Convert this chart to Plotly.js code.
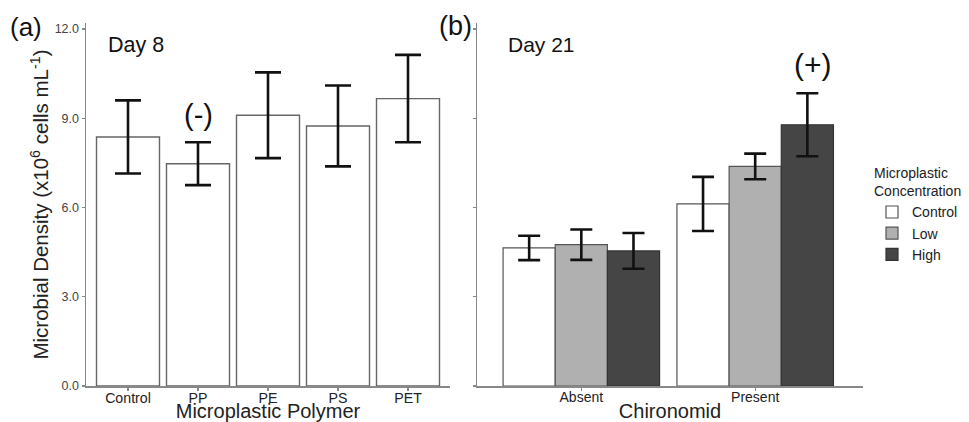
<!DOCTYPE html>
<html>
<head>
<meta charset="utf-8">
<script src="https://cdn.plot.ly/plotly-3.0.1.min.js"></script>
<style>html,body{margin:0;padding:0;background:#fff}#chart{width:969px;height:422px}</style>
</head>
<body>
<div id="chart"></div>
<script>
// Panel (a): Day 8
const polymers = ["Control", "PP", "PE", "PS", "PET"];
const day8Density = [8.37, 7.47, 9.10, 8.74, 9.66];
const day8Error = [1.23, 0.72, 1.44, 1.36, 1.47];

// Panel (b): Day 21
const chironomid = ["Absent", "Present"];
const concentrations = ["Control", "Low", "High"];
const day21Control = [4.64, 6.12];
const day21ControlErr = [0.41, 0.91];
const day21Low = [4.75, 7.38];
const day21LowErr = [0.51, 0.43];
const day21High = [4.54, 8.78];
const day21HighErr = [0.60, 1.06];

const yTicks = [0, 3, 6, 9, 12];
const yTickText = ["0.0", "3.0", "6.0", "9.0", "12.0"];

const FONT = "Liberation Sans, Arial, sans-serif";
const barLine = {color: "#555555", width: 1.2};

// plot area in pixels (margins)
const ML = 86, MR = 106, MT = 23, MB = 36;
const W = 969, H = 422;
const PW = W - ML - MR, PH = H - MT - MB;
const px = v => (v - ML) / PW;           // page px -> paper x
const py = v => (H - MB - v) / PH;       // page px -> paper y

const traces = [
  {
    type: "bar", x: polymers, y: day8Density, xaxis: "x", yaxis: "y",
    width: 0.9, showlegend: false,
    marker: {color: "#ffffff", line: {color: "#666666", width: 1.4}},
    error_y: {type: "data", array: day8Error, visible: true, color: "#111111", thickness: 2.6, width: 13}
  },
  {
    type: "bar", name: concentrations[0], x: chironomid, y: day21Control, xaxis: "x2", yaxis: "y2",
    width: 0.3, offset: -0.45,
    marker: {color: "#ffffff", line: barLine},
    error_y: {type: "data", array: day21ControlErr, visible: true, color: "#111111", thickness: 2.6, width: 11}
  },
  {
    type: "bar", name: concentrations[1], x: chironomid, y: day21Low, xaxis: "x2", yaxis: "y2",
    width: 0.3, offset: -0.15,
    marker: {color: "#b0b0b0", line: barLine},
    error_y: {type: "data", array: day21LowErr, visible: true, color: "#111111", thickness: 2.6, width: 11}
  },
  {
    type: "bar", name: concentrations[2], x: chironomid, y: day21High, xaxis: "x2", yaxis: "y2",
    width: 0.3, offset: 0.15,
    marker: {color: "#454545", line: {color: "#333333", width: 1.2}},
    error_y: {type: "data", array: day21HighErr, visible: true, color: "#111111", thickness: 2.6, width: 11}
  }
];

const axisCommon = {
  showgrid: false, zeroline: false, showline: true, linecolor: "#888888", linewidth: 1.5,
  ticks: "outside", ticklen: 3, tickcolor: "#888888", tickwidth: 1.2, automargin: false
};

const layout = {
  width: W, height: H,
  margin: {l: ML, r: MR, t: MT, b: MB, autoexpand: false},
  paper_bgcolor: "#ffffff", plot_bgcolor: "#ffffff",
  font: {family: FONT, color: "#222222"},
  barmode: "overlay",
  xaxis: Object.assign({}, axisCommon, {
    domain: [0, 364 / PW], anchor: "y", range: [-0.6, 4.6],
    tickfont: {size: 14.2, color: "#222222"}, ticklabelstandoff: -5,
    title: {text: "Microplastic Polymer", font: {size: 20, color: "#222222"}, standoff: 3}
  }),
  yaxis: Object.assign({}, axisCommon, {
    domain: [0, 1], anchor: "x", range: [0, 12.2],
    tickvals: yTicks, ticktext: yTickText,
    tickfont: {size: 12.5, color: "#444444"},
    title: {text: "Microbial Density (x10<sup>6</sup> cells mL<sup>-1</sup>)", font: {size: 20.5, color: "#222222"}, standoff: 0}
  }),
  xaxis2: Object.assign({}, axisCommon, {
    domain: [391 / PW, 1], anchor: "y2", range: [-0.6, 1.62],
    tickfont: {size: 14, color: "#222222"}, ticklabelstandoff: -5,
    title: {text: "Chironomid", font: {size: 20, color: "#222222"}, standoff: 3}
  }),
  yaxis2: Object.assign({}, axisCommon, {
    domain: [0, 1], anchor: "x2", range: [0, 12.2],
    tickvals: yTicks, showticklabels: false
  }),
  showlegend: true,
  legend: {
    x: px(872), y: py(160), xanchor: "left", yanchor: "top",
    bgcolor: "rgba(0,0,0,0)", itemwidth: 30, tracegroupgap: 0,
    font: {size: 14, color: "#222222"},
    title: {text: "Microplastic<br>Concentration", font: {size: 14, color: "#222222"}}
  },
  annotations: [
    {text: "(a)", x: px(8), y: py(27), xref: "paper", yref: "paper", xanchor: "left", yanchor: "middle", showarrow: false, font: {size: 26, color: "#111111"}},
    {text: "(b)", x: px(437), y: py(26), xref: "paper", yref: "paper", xanchor: "left", yanchor: "middle", showarrow: false, font: {size: 27, color: "#111111"}},
    {text: "Day 8", x: px(106), y: py(45), xref: "paper", yref: "paper", xanchor: "left", yanchor: "middle", showarrow: false, font: {size: 21.5, color: "#111111"}},
    {text: "Day 21", x: px(506), y: py(45), xref: "paper", yref: "paper", xanchor: "left", yanchor: "middle", showarrow: false, font: {size: 21, color: "#111111"}},
    {text: "(-)", x: "PP", y: 9.11, xref: "x", yref: "y", xanchor: "center", yanchor: "middle", showarrow: false, font: {size: 29, color: "#111111"}},
    {text: "(+)", x: 1.334, y: 10.8, xref: "x2", yref: "y2", xanchor: "center", yanchor: "middle", showarrow: false, font: {size: 30, color: "#111111"}}
  ]
};

Plotly.newPlot("chart", traces, layout, {displayModeBar: false, staticPlot: true});
</script>
</body>
</html>
